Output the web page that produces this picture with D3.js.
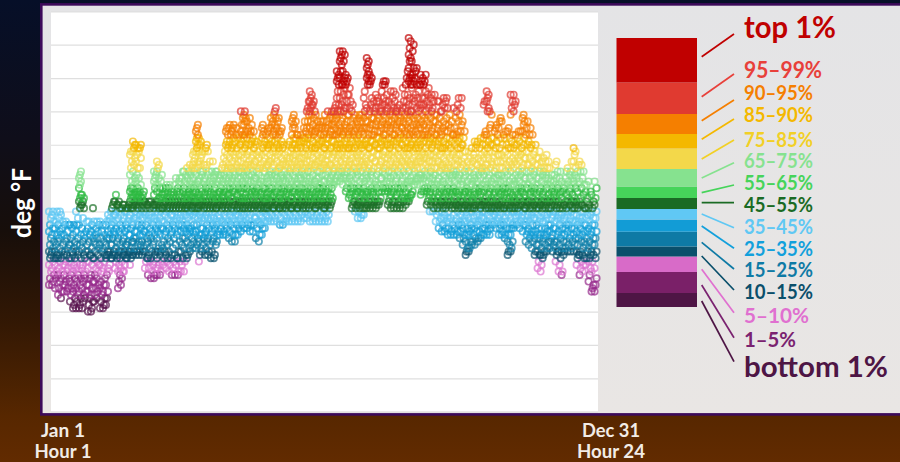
<!DOCTYPE html>
<html><head><meta charset="utf-8">
<script src="https://cdn.jsdelivr.net/npm/d3@7/dist/d3.min.js"></script>
<style>html,body{margin:0;padding:0;background:#000}svg{display:block}text{font-family:Lato,Carlito,"Open Sans",sans-serif;font-weight:700}</style>
</head><body><div id="c"></div>
<script>
// Hourly temperatures (deg F), one list per 48-hour column.
const midWinter = [
[18,20,22,24,26,27,28,30,32,34,36,38,40],[18,19,21,23,25,26,28,29,31,33,35,37,39,40],[17,20,22,24,26,27,28,30,33,35,37,40],[15,17,19,21,23,25,26,27,29,31,32,34,36,38,40],[14,16,18,20,22,24,26,28,30,33,35,37,39],[16,18,19,21,24,25,27,28,31,33,36,37],[16,17,20,22,23,26,27,29,30,32,34,36],[13,15,17,19,21,23,25,26,28,30,32,35,36],[11,12,14,16,18,20,22,24,26,27,29,31,33,36],[11,13,15,17,19,21,23,25,27,28,30,32,34,36,38,40],
[11,12,14,16,18,20,22,24,26,28,30,33,36,41,42,43,44,45,47,48,49,50,51,52],[11,13,15,17,19,21,23,24,27,29,31,33,35,38,41,42,43,44,45],[14,16,18,20,22,25,26,28,30,32,34,37],[10,12,14,16,18,20,23,25,27,28,31,33,35,37],[10,11,13,15,17,19,21,24,26,27,29,32,34,36,41],[13,15,17,19,21,23,26,28,30,31,33,35,37],[14,16,18,20,22,24,25,27,29,32,34,36,37],[11,13,15,17,19,22,24,26,28,30,32,34,37],[11,12,14,16,18,20,23,25,27,29,31,33,36],[12,14,16,18,21,23,26,27,28,30,32,34,36,37,39],
[22,24,26,27,28,30,32,33,35,37,38,40],[26,27,28,30,32,34,36,37,39,41,42,43],[23,25,26,27,29,31,33,35,37,39,40,42,43,45],[17,19,21,22,24,26,27,28,30,32,34,36,38,40,41,42,43],[18,20,22,23,25,27,28,29,31,33,35,37,39,41,42],[22,24,26,27,28,30,32,34,36,38,40,41,42],[26,27,28,30,31,33,35,37,38,40,41,42],[24,26,27,28,29,31,33,35,37,39,41,42,43,44,45,46,47,49,51,53,55,57,58],[27,28,29,31,32,34,36,38,40,41,42,43,44,45,46,47,48,50,52,54,56,58,59,60,61],[27,28,30,32,34,36,38,39,41,42,43,44,45,46,47,49,51,53,55,57,59,60],
[27,28,30,31,33,35,37,39,40,42,43,44,45,46,48,50,53,56,58,59,60]];
const lateWinter = [
[27,28,29,31,33,34,36,38,40,41,42,43,44,45,46],[23,25,26,28,30,32,34,36,38,39,41,42,43],[21,23,25,26,27,29,31,33,35,37,39,41,42,43],[20,22,24,26,28,30,32,34,36,38,40,42,43],[20,21,23,25,27,28,31,33,35,37,38,40,41,42,43,45,47,48,49,50,51,52],[21,23,24,26,28,29,32,34,36,37,39,41,42,43,44,46,48,50,52,53,54,55],[21,22,25,27,28,30,33,35,37,38,40,41,42,44,45,47,49,51],[24,26,28,29,31,33,35,37,39,41,42,43,44,45,46,47],[23,25,26,27,30,32,34,36,38,40,41,42,43,44,46,47,48],[22,24,26,28,31,33,35,37,39,40,41,42,43,44,45,47,48],
[21,23,25,27,29,32,34,36,37,39,41,42,43,44,45,46],[21,24,26,27,30,33,35,37,38,40,41,42,43,44,46,48,50],[21,22,25,26,28,31,34,36,38,39,41,42,43,45,46,47,49,50],[22,24,26,28,30,32,34,36,37,39,41,42,43,44,46,48,50,52],[22,25,27,29,32,34,35,37,39,40,41,42,43,44,45,47,49,51,52],[26,27,29,31,33,35,36,38,40,41,42,43,44,45,46,48,50,52,53],[28,30,32,34,35,37,39,40,41,42,43,44,45,47,48,49,51,53,54],[29,31,33,34,36,38,39,40,41,42,43,44,46,47,48,50,52,53,54,55,56,57,58],[29,30,32,34,36,38,40,41,42,43,44,45,46,48,49,51,53,55,58,59,60,61,62,63,64,65,66],[25,27,29,31,33,35,37,39,40,41,42,43,44,45,47,49,50,52,54,55,56,58,60,61,62],
[28,30,32,33,35,37,38,40,41,42,43,44,46,48,49,51,52,54,57,58],[27,29,31,33,34,36,38,39,41,42,43,44,45,47,48,50,53,54,58,59,60],[27,28,30,32,35,37,38,40,41,42,43,45,46,47,49,51,52,55,58],[26,28,31,33,34,36,38,39,41,42,43,44,46,48,49,50,52,55],[26,27,30,32,35,37,38,40,41,42,43,44,45,47,48,50,51,52]];
const spring = [
[31,33,34,36,37,39,41,42,43,44,45,46,48,49,51,52],[33,35,37,38,40,41,42,43,44,46,47,48,50,51,53],[33,34,36,37,39,41,42,43,44,45,46,48,49,51,53,54,56,58],[33,35,37,38,40,41,42,43,45,46,47,49,50,52,53,55,57,59,60,61,63,64,65],[32,34,36,37,39,40,42,43,44,45,47,48,50,51,53,54,56,58,60,61,63,65,66],[31,33,35,37,38,40,41,42,43,44,46,47,49,50,52,53,55,57,59,60,62,64,65,66],[31,33,36,37,39,41,42,43,45,46,48,49,51,53,54,56,58,59,61,63,65],[33,35,37,39,40,41,42,43,44,45,47,48,50,52,53,55,57,60,62,63],[34,36,37,38,40,41,42,43,44,46,47,49,50,52,53,55,57,58,60,61,63,64,66,68,70],[35,37,38,39,41,42,43,44,45,47,48,50,51,53,54,56,59,60,62,63,64,66,67,68,69,70],
[35,36,38,40,41,42,43,44,46,47,49,51,52,54,55,57,58,60,62,64,65,67],[34,36,37,39,41,42,43,45,46,48,49,51,53,54,56,58,60,61,63,64,66,68],[34,36,38,40,41,42,43,44,46,47,49,50,52,54,55,57,59,61,62,64],[32,35,37,38,40,41,42,43,44,45,47,48,50,52,53,55,57,58,60,61],[31,33,36,37,39,41,42,43,45,46,48,49,51,53,54,56,58],[33,35,37,38,40,41,42,43,44,46,47,49,50,53,55,57,59,60,62,63,64,65,66],[35,37,39,40,41,42,43,44,45,47,48,50,52,53,54,56,58,60,61,63],[37,38,40,41,42,43,44,46,47,49,51,52,54,55,57,59,60,62,64,65],[37,39,41,42,43,44,45,47,48,50,51,53,55,56,58,60,61,63,65,66,67,68],[37,38,40,41,42,43,45,46,48,49,51,52,54,56,58,59,61,63,64,66,68,69,70,71],
[37,39,41,42,43,44,46,47,49,50,52,53,55,57,59,60,62,64,65,67,68],[36,38,40,41,42,43,44,45,47,48,50,51,53,54,56,58,60,61,63,64,65],[36,37,39,41,42,43,44,46,47,49,50,52,54,55,57,59,60],[37,38,40,41,42,43,45,46,48,49,51,53,54,56,58],[37,39,41,42,43,44,45,47,48,50,52,53,55,56,58,60,61],[37,38,40,41,42,43,44,46,47,49,51,53,54,56,57,59,60,62,63,65,66,67,68,69],[37,39,41,42,43,45,46,48,49,50,52,54,55,57,59,60,62,63,65,67],[37,38,40,41,42,43,44,46,47,48,50,51,53,55,56,58,60,61,63],[37,39,41,42,43,44,45,47,48,50,52,53,54,56,58,59,61,62,63],[38,40,41,42,43,45,46,48,49,51,53,54,56,57,59,61,62,64,65,67]];
const summer = [
[38,39,41,42,43,44,46,47,49,50,52,53,55,57,58,60,62,63,65,67,69,70,71,73],[37,39,40,42,43,44,45,47,48,50,52,54,55,57,59,60,62,64,65,67,69,70,71,72,73,74,75,76],[37,38,41,42,43,45,46,48,49,51,53,54,56,58,59,61,63,64,66,68,70,72,73],[37,39,40,41,42,43,44,46,47,49,50,52,54,55,57,59,60,62,64,65,67,69],[37,38,40,42,43,44,45,47,48,50,52,53,55,56,58,60,61,63,65,66,67],[37,39,41,42,43,44,46,47,49,51,53,54,56,57,59,61,62,63,65,67],[37,38,40,41,42,43,45,46,48,49,51,53,54,55,57,59,60,62,64,65,67,69],[37,39,41,42,43,44,46,47,49,50,52,54,55,57,58,60,62,63,65,66,68,70],[42,43,44,45,47,48,50,51,53,54,56,58,59,61,63,64,66,68,69,70],[48,49,50,52,53,55,57,58,60,61,63,65,66,67,69,70,71,72],
[49,51,52,54,56,57,59,60,62,63,64,66,68,70,72,74,76,78,79,80,81,82],[49,50,52,53,55,57,59,60,62,64,65,67,69,70,72,74,76,78,80,82,84,85,86,87,88],[48,50,51,53,54,56,58,59,61,63,64,66,68,70,71,73,75,77,78,79,80,82,85,87,88],[46,47,49,50,52,53,55,57,59,60,62,64,65,67,69,71,73,75,78,79,80,81],[44,45,47,48,50,52,54,55,57,59,60,62,63,65,67,69,71,73,75,77],[41,42,43,44,46,47,49,51,53,54,56,58,59,61,63,64,66,68,70,72],[40,41,42,43,45,46,48,50,52,53,55,57,59,60,62,64,65,67,69],[38,40,41,42,43,44,46,47,49,51,53,55,56,58,60,61,63,65,66,68,69],[38,39,41,42,43,45,46,48,50,52,54,55,57,59,60,62,64,65,67,69],[39,41,42,43,44,46,47,49,51,53,54,56,58,60,61,63,65,67,68,70,72,74,76],
[41,42,43,45,46,48,50,52,53,55,57,59,60,62,63,65,67,69,71,78,79,80,81,82,83,84,85,86],[41,42,43,44,46,47,49,51,52,54,56,58,59,61,63,65,66,68,70,72,74,78,79,80,81],[41,42,43,45,46,48,50,53,55,56,58,60,61,63,64,66,68,70,71,73],[41,42,43,44,47,48,49,51,53,55,57,59,60,62,64,66,67,69,71,73,74,75],[42,43,44,46,48,50,52,54,55,57,59,61,62,64,66,68,70,71,73],[46,47,48,50,52,53,55,57,58,60,62,63,65,67,69,70,72,74,76,78,79],[46,47,49,51,53,54,56,58,60,61,63,65,66,68,70,72,73,75,78,79],[42,43,44,46,47,49,50,52,54,56,57,59,60,62,64,66,67,69,71,73],[41,42,43,45,46,48,50,52,53,55,57,58,60,62,63,65,67,69,70,72,74,76],[41,43,44,46,47,49,51,53,54,56,58,60,61,63,65,66,68,70,71,73,75,76],
[41,42,43,45,47,48,50,52,54,55,57,59,61,62,64,66,67,69,70,71],[41,42,44,46,47,49,51,53,55,56,58,60,62,63,65,67,68,70,72],[41,43,44,45,47,48,50,52,54,55,57,59,60,62,64,65,67,69,71,73,75,77],[42,43,44,46,48,49,51,53,55,56,58,59,61,63,65,66,68,70,71,73,75,78,80,82],[43,44,45,47,49,50,52,54,55,57,59,60,62,63,65,67,69,70,72,74,78,79,80,81,83,85,86,87,89,91,92],[45,46,48,49,51,53,54,56,58,60,61,63,64,66,68,70,72,74,77,78,79,80,81,83,85,88,90],[48,49,50,52,54,55,57,59,60,62,64,66,67,69,71,73,75,78,80,82,83],[48,50,51,53,55,56,58,59,61,63,65,66,68,70,72,74,76,78],[45,46,48,50,51,53,55,57,58,60,62,63,65,67,69,71,72,74,78,79,80,81],[46,47,49,50,52,54,56,57,59,61,63,64,66,68,70,72,74,76,78,79,81]];
const autumn = [
[42,43,44,46,47,49,51,53,55,56,58,60,62,63,65,67,69,71,73,75,77],[40,42,43,45,46,48,50,52,53,55,57,59,61,62,64,66,68,70,72,74,75],[40,41,43,44,47,48,50,51,53,55,57,58,60,62,63,65,67,69,71,73,75],[37,39,41,42,43,44,46,48,49,51,53,55,56,58,60,61,63,65,67,69,73],[35,37,38,40,42,43,45,46,48,50,52,54,55,57,59,61,62,64,66,68,70,73],[34,36,38,40,41,42,43,44,46,47,49,51,53,54,56,58,59,61,63,65,67,70,72,74],[34,35,37,39,41,42,43,45,46,48,50,52,53,55,57,59,60,62,64,66,68,71,73,74],[33,35,37,38,40,42,43,44,46,47,49,51,53,54,56,58,60,62,64,66,69,71],[33,34,36,38,41,42,43,45,46,48,50,51,53,55,57,59,61,63,65,67],[33,35,37,39,41,42,43,44,46,47,49,51,52,54,56,58,60,62,63,65,68,71],
[33,34,36,38,40,41,42,43,45,46,48,50,52,54,55,57,59,61,63,64,67,70,72,74],[32,34,36,37,39,41,42,43,44,46,48,49,51,53,55,57,59,60,62,64,66,69,71,74],[30,32,33,35,37,38,40,41,42,43,45,46,48,50,52,54,56,58,60,62,64,67],[27,28,29,31,33,35,37,39,41,42,43,44,46,47,49,51,53,55,58],[28,29,31,33,34,36,38,40,41,42,43,45,46,48,50,52,54,56,58],[30,31,33,35,37,38,40,41,42,43,44,46,48,49,51,53,55,57,59],[30,32,34,35,37,39,41,42,43,45,47,48,50,52,54,56,59,60,61],[31,32,34,36,37,39,40,42,43,44,46,47,49,51,53,54,56,59,61],[32,33,35,37,38,40,41,42,43,45,46,48,50,52,53,55,57,60,62],[33,35,36,38,40,41,42,43,44,46,48,49,51,53,54,56,58,60,62,63,64,72,73],
[33,34,36,37,39,41,42,43,45,47,48,50,52,54,56,57,59,61,63,70,71,73,74,75,76],[33,35,37,38,40,41,42,43,44,46,47,49,51,53,55,58,60,62,65,66,69,70],[36,37,39,40,41,42,43,45,46,48,50,52,54,56,58,60,62,64],[35,37,38,40,41,42,43,44,47,48,50,51,53,55,57,59,61,63,65,66],[33,35,36,38,39,41,42,43,45,46,48,49,51,53,55,57,59,62,65,67,68],[33,34,36,37,40,41,42,43,44,46,47,49,51,53,55,57,60,63,67],[32,33,35,37,38,40,41,42,44,45,47,48,50,52,54,56,58,60,62,64],[27,28,30,31,33,35,37,39,41,42,43,44,46,47,49,51,53,55,57,59,62,64,65],[28,29,31,33,35,36,38,40,41,42,43,45,46,48,50,52,54,56,59,61,63,69,71,73,75],[35,37,38,40,41,42,43,44,46,48,49,51,53,55,57,59,60,63,70,72,73,75]];
const earlyWinter = [
[36,37,39,40,41,42,43,45,47,48,50,52,54,56,58,60,62,64],[35,37,38,40,42,43,44,46,47,49,51,53,55,57,59,61,64],[34,36,37,39,40,41,42,43,45,46,48,50,52,54,56,58,60,62,64,66,67,68,69],[31,33,34,36,37,39,41,42,43,44,47,48,50,52,54,56,58,60,63,65,67],[30,32,33,35,37,38,40,41,42,43,45,46,48,50,52,54,56,59,61,63,65],[29,31,33,34,36,38,39,41,42,43,44,46,47,49,51,53,55,57,60,63],[27,28,30,32,34,36,38,40,41,42,43,45,47,48,50,52,54,56,58,60],[23,25,27,28,30,32,33,35,37,39,41,42,43,44,46,48,50,52,54,56,58],[22,24,26,27,29,31,33,35,37,38,40,41,42,43,45,47,49,51,53,55],[27,28,30,32,33,35,37,39,41,42,43,44,46,48,50,52,53,55,56],
[28,29,31,33,34,36,38,39,41,42,43,45,47,48,50,51,53,55,57],[29,31,32,34,36,38,40,41,42,43,44,46,48,49,51,53],[28,30,31,33,35,37,39,40,42,43,45,46,47,49,51],[25,27,28,29,31,33,35,37,38,40,41,42,43,44,47,48,50,52,54,55],[22,24,26,28,30,32,34,36,38,39,41,42,43,45,46,48,50,52],[21,22,27,28,29,31,33,35,37,39,41,42,44,46,47,49],[28,29,31,33,35,36,38,40,41,42,43,45,48,50,52],[28,30,32,34,36,37,39,40,42,43,44,46,48,49,51,53],[28,29,31,33,35,37,38,40,41,42,43,45,47,48,50,52,55],[28,30,32,33,35,37,39,41,42,43,44,47,49,51,53,55,57,58,59],
[24,26,27,28,30,32,34,36,37,39,41,42,43,46,48,50,52,54],[21,23,25,27,28,31,33,35,37,38,40,42,43,44,47,49,52,54,55],[22,24,26,27,29,31,33,34,36,38,40,41,42,45,48,50,52],[24,26,28,30,32,34,36,38,39,41,43,44,46,48],[19,21,23,25,26,27,29,31,33,35,37,39,41,42,46,49],[16,17,18,22,25,27,28,30,32,34,36,38,40,41,43,45],[16,18,20,23,26,28,30,32,34,36,38,40,42,44,47,49]];

const gridTemps = [-20,-10,0,10,20,30,40,50,60,70,80,90,100];
const bandCuts = [14.5,21.5,25.5,28.5,32.5,36.5,40.5,43.5,47.5,52.5,58.5,62.5,69.5,78];
const bandLabels = ["bottom 1%","1–5%","5–10%","10–15%","15–25%","25–35%","35–45%","45–55%","55–65%","65–75%","75–85%","85–90%","90–95%","95–99%","top 1%"];
const ringColors = ["#5a1550","#962a8c","#dc74d0","#0a5470","#1080aa","#14a0d8","#5ec8f4","#1c7028","#2dbb41","#86e28f","#f3d84a","#f4b800","#f57f00","#e03a30","#c00000"];
const swatchColors = ["#4e1545","#7a2068","#d86bc8","#0a4f6b","#0e7aa5","#129cd6","#60c8f4","#1a6b24","#46d45a","#86e28f","#f3d84a","#f4b800","#f57f00","#e03a30","#c00000"];
const labelColors = ["#4e1545","#7a2270","#e070d0","#0a4f6b","#0e7aa5","#12a0dc","#60c8f4","#1a6b24","#46d45a","#86e28f","#f2d026","#f4b800","#f57f00","#e8403a","#c00000"];

// layout
const W=900,H=462;
const swatchEdges=[307,293,272,256.5,246.5,231.7,219.5,209,198,186.5,169,148.5,134,114,82.5,38];
const leaderFrom=[301,285,269.3,256,242.3,226,214,202.7,192.7,178,159,139.3,120.7,96.7,56.7];
const leaderTo=[361.7,337.7,312.7,290,269,248.3,227.7,202.7,185,162.7,140,119,100,74,34];
const labelBase=[377.3,346.7,322.7,299,277.3,256,234,212,190,168.3,146.7,122,100,78.3,37.7];
const labelSize=[29,21.5,21.5,20,20,20,20,20,20,20,20,20,20,22,30];
const labelWidth=[144,52,65,69,69,69,69,69,69,69,69,69,69,78,92];

const svg=d3.select("#c").append("svg").attr("width",W).attr("height",H);
const defs=svg.append("defs");
const bg=defs.append("linearGradient").attr("id","bg").attr("x1",0).attr("x2",0).attr("y1",0).attr("y2",1);
[[0,"#060f28"],[.3,"#0f0e1a"],[.5,"#170e0a"],[.7,"#331804"],[.9,"#572700"],[1,"#622b00"]].forEach(s=>bg.append("stop").attr("offset",s[0]).attr("stop-color",s[1]));
const pg=defs.append("linearGradient").attr("id","pg").attr("x1",0).attr("x2",0).attr("y1",0).attr("y2",1);
[[0,"#e4e4e6"],[1,"#e9e6e4"]].forEach(s=>pg.append("stop").attr("offset",s[0]).attr("stop-color",s[1]));
svg.append("rect").attr("width",W).attr("height",H).attr("fill","url(#bg)");
svg.append("rect").attr("x",41.3).attr("y",4.4).attr("width",W).attr("height",410).attr("fill","url(#pg)").attr("stroke","#3c0a5a").attr("stroke-width",2.6);
svg.append("rect").attr("x",51).attr("y",12).attr("width",547).attr("height",399.5).attr("fill","#fff");

const x=d3.scaleLinear().domain([1,8760]).range([50,597]);
const y=d3.scaleLinear().domain([-20,100]).range([411.7,11.3]);
const band=d3.scaleThreshold().domain(bandCuts).range(d3.range(15));

const grid=svg.append("g").attr("transform","translate(51,0)").call(d3.axisLeft(y).tickValues(gridTemps).tickSize(-547).tickFormat(""));
grid.select(".domain").remove();
grid.selectAll("line").attr("stroke","#dfdfdf").attr("stroke-width",1.2);

// Each list holds readings of one 48-hour span: they are spread over its hours in list order.
const columns=[...midWinter,...lateWinter,...spring,...summer,...autumn,...earlyWinter];
const points=columns.flatMap((vals,i)=>vals.map((t,j)=>({hour:1+48*i+(j%3)*16-16,t})));
points.sort((a,b)=>band(a.t)-band(b.t));
svg.append("g").selectAll("circle").data(points).join("circle")
  .attr("cx",d=>x(d.hour)).attr("cy",d=>y(d.t)).attr("r",3.2)
  .attr("fill","none").attr("stroke",d=>ringColors[band(d.t)]).attr("stroke-width",1.7).attr("stroke-opacity",.7);

// legend
const lg=svg.append("g");
lg.selectAll("rect").data(bandLabels).join("rect")
  .attr("x",616.5).attr("width",80.5)
  .attr("y",(d,i)=>swatchEdges[i+1]).attr("height",(d,i)=>swatchEdges[i]-swatchEdges[i+1])
  .attr("fill",(d,i)=>swatchColors[i]);
lg.selectAll("line").data(bandLabels).join("line")
  .attr("x1",701.7).attr("x2",734).attr("y1",(d,i)=>leaderFrom[i]).attr("y2",(d,i)=>leaderTo[i])
  .attr("stroke",(d,i)=>labelColors[i]).attr("stroke-width",1.7);
lg.selectAll("text").data(bandLabels).join("text")
  .attr("x",744).attr("y",(d,i)=>labelBase[i]).text(d=>d)
  .attr("font-size",(d,i)=>labelSize[i]).attr("fill",(d,i)=>labelColors[i])
  .attr("textLength",(d,i)=>labelWidth[i]).attr("lengthAdjust","spacingAndGlyphs");

// axis captions
const caps=[["Jan 1",63,437,44],["Hour 1",63,458,57],["Dec 31",611,437,58],["Hour 24",611,458,68]];
svg.selectAll("text.cap").data(caps).join("text").attr("class","cap")
  .attr("x",d=>d[1]).attr("y",d=>d[2]).attr("text-anchor","middle").attr("fill","#f2ece6")
  .attr("font-size",18).attr("textLength",d=>d[3]).attr("lengthAdjust","spacingAndGlyphs").text(d=>d[0]);
svg.append("text").attr("transform","translate(30.5,203) rotate(-90)").attr("text-anchor","middle")
  .attr("fill","#fff").attr("font-size",27).attr("textLength",70).attr("lengthAdjust","spacingAndGlyphs").text("deg °F");
</script></body></html>
